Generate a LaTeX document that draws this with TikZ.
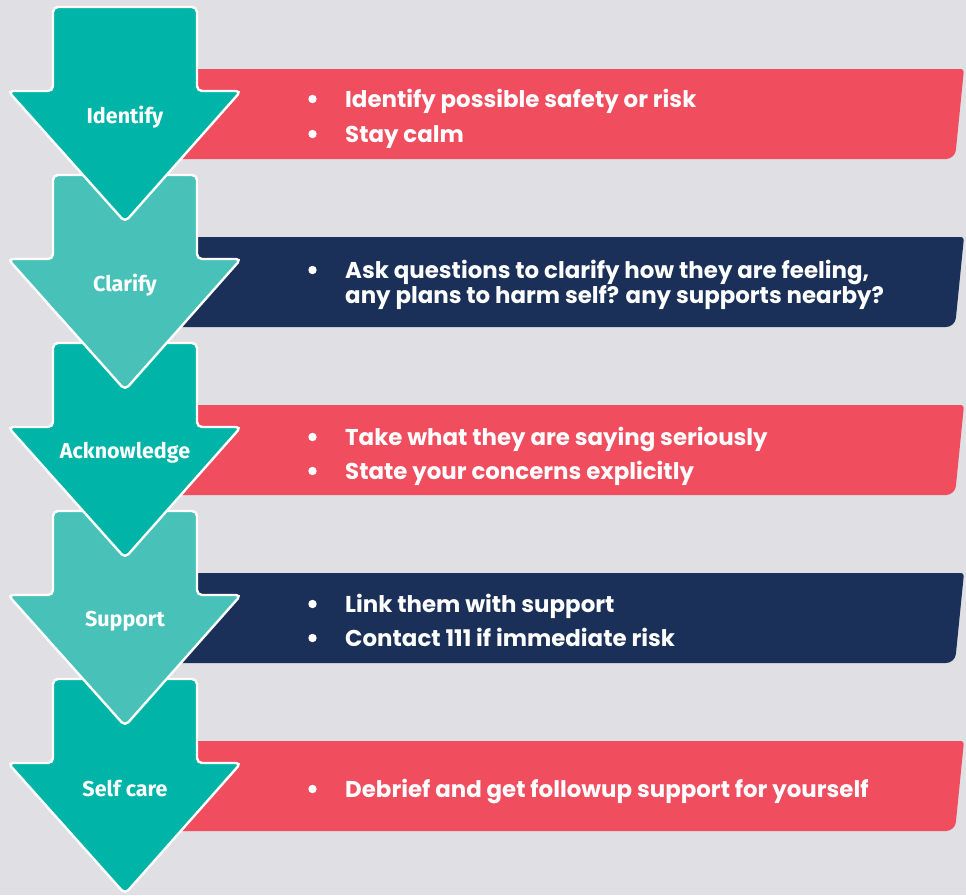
\documentclass[tikz,border=0pt]{standalone}
\usepackage{fontspec}
\newfontfamily\bulletfont{Poppins}
\newfontfamily\labelfont{Fira Sans}
\definecolor{bg}{HTML}{E0DFE4}
\definecolor{tealdark}{HTML}{00B4A7}
\definecolor{teallight}{HTML}{48C2B9}
\definecolor{coral}{HTML}{F04D5F}
\definecolor{navy}{HTML}{1A3058}
\begin{document}
\begin{tikzpicture}[x=1pt,y=-1pt,
  bannerbox/.style={fill=#1},
  steparrow/.style={fill=#1, draw=white, line width=2.4pt, rounded corners=5},
  steplabel/.style={text=white, font=\labelfont\bfseries\fontsize{21.5}{23}\selectfont, inner sep=0pt},
  pointtext/.style={text=white, anchor=base west, inner sep=0pt,
    font=\bulletfont\bfseries\fontsize{22.9}{26}\selectfont},
  pointdot/.style={circle, fill=white, minimum size=8.4pt, inner sep=0pt}]
\fill[bg] (0,0) rectangle (966,895);
\useasboundingbox (0,0) rectangle (966,895);

% ribbons behind the arrows
\foreach \t/\c in {69/coral,237/navy,405/coral,573/navy,741/coral}{
  \fill[bannerbox=\c] (150,\t) [rounded corners=3] -- (964,\t)
    [rounded corners=9] -- (955,\t+90) [sharp corners] -- (150,\t+90) -- cycle;
}

% step arrows, lowest first so each tip lies over the next shaft
\foreach \k/\c/\lab in {4/tealdark/Self care,3/teallight/Support,2/tealdark/Acknowledge,1/teallight/Clarify,0/tealdark/Identify}{
  \begin{scope}[shift={(0,168*\k)}]
    \draw[steparrow=\c] (53,7) -- (197,7) -- (197,91) -- (241,91) -- (125,222)
      -- (8,91) -- (53,91) -- cycle;
    \node[steplabel] (label\k) at (125,117) {\lab};
  \end{scope}
}

% bullet points
\node[pointdot] (d1a) at (312.5,99) {};
\node[pointtext] (t1a) at (345,107) {Identify possible safety or risk};
\node[pointdot] (d1b) at (312.5,134) {};
\node[pointtext] (t1b) at (345,142) {Stay calm};

\node[pointdot] (d2a) at (312.5,270) {};
\node[pointtext] (t2a) at (345,278) {Ask questions to clarify how they are feeling,};
\node[pointtext] (t2b) at (345,303) {any plans to harm self? any supports nearby?};

\node[pointdot] (d3a) at (312.5,437) {};
\node[pointtext] (t3a) at (345,445) {Take what they are saying seriously};
\node[pointdot] (d3b) at (312.5,471) {};
\node[pointtext] (t3b) at (345,479) {State your concerns explicitly};

\node[pointdot] (d4a) at (312.5,604) {};
\node[pointtext] (t4a) at (345,612) {Link them with support};
\node[pointdot] (d4b) at (312.5,638) {};
\node[pointtext] (t4b) at (345,646) {Contact 111 if immediate risk};

\node[pointdot] (d5a) at (312.5,789) {};
\node[pointtext] (t5a) at (345,797) {Debrief and get followup support for yourself};
\end{tikzpicture}
\end{document}
